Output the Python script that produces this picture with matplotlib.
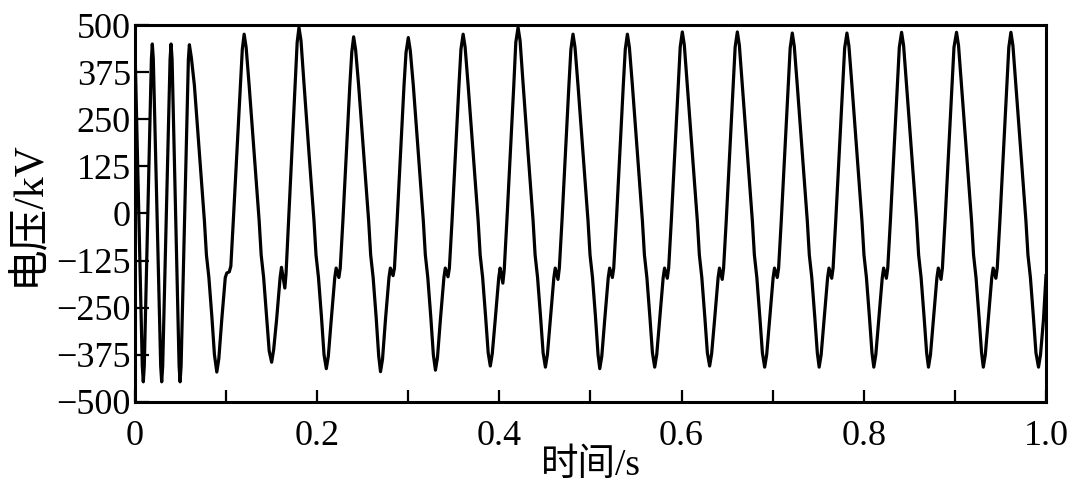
import matplotlib
matplotlib.use("Agg")
import matplotlib.pyplot as plt
from matplotlib.ticker import MultipleLocator, FuncFormatter

plt.rcParams['font.family'] = ['Liberation Serif', 'Noto Sans CJK SC']
plt.rcParams['axes.unicode_minus'] = True

# waveform, one row per cycle (peak -> trough -> rise)
time_s = [
    0.0000, 0.0080, 0.0091, 0.0102, 0.0180, 0.0190, 0.0201, 0.0282, 0.0293, 0.0304,
    0.0385, 0.0396, 0.0407, 0.0484, 0.0495, 0.0506, 0.0586,
    0.0597, 0.0619, 0.0652, 0.0707, 0.0762, 0.0784, 0.0811, 0.0844, 0.0872, 0.0898,
    0.0920, 0.0953, 0.0991, 0.1008, 0.1035, 0.1052, 0.1079, 0.1118, 0.1156, 0.1178,
    0.1198, 0.1220, 0.1253, 0.1308, 0.1363, 0.1385, 0.1412, 0.1445, 0.1473, 0.1500,
    0.1522, 0.1555, 0.1593, 0.1608, 0.1645, 0.1658, 0.1686, 0.1722, 0.1758, 0.1780,
    0.1800, 0.1822, 0.1855, 0.1910, 0.1965, 0.1987, 0.2014, 0.2047, 0.2075, 0.2100,
    0.2122, 0.2155, 0.2193, 0.2208, 0.2238, 0.2253, 0.2282, 0.2320, 0.2358, 0.2380,
    0.2400, 0.2422, 0.2455, 0.2510, 0.2565, 0.2587, 0.2614, 0.2647, 0.2675, 0.2695,
    0.2717, 0.2750, 0.2788, 0.2803, 0.2833, 0.2848, 0.2877, 0.2915, 0.2953, 0.2975,
    0.3000, 0.3022, 0.3055, 0.3110, 0.3165, 0.3187, 0.3214, 0.3247, 0.3275, 0.3298,
    0.3320, 0.3353, 0.3391, 0.3406, 0.3436, 0.3451, 0.3480, 0.3518, 0.3556, 0.3578,
    0.3602, 0.3624, 0.3657, 0.3712, 0.3767, 0.3789, 0.3816, 0.3849, 0.3877, 0.3900,
    0.3922, 0.3955, 0.3993, 0.4008, 0.4038, 0.4053, 0.4082, 0.4120, 0.4158, 0.4180,
    0.4205, 0.4227, 0.4260, 0.4315, 0.4370, 0.4392, 0.4419, 0.4452, 0.4480, 0.4505,
    0.4527, 0.4560, 0.4598, 0.4613, 0.4643, 0.4658, 0.4687, 0.4725, 0.4763, 0.4785,
    0.4808, 0.4830, 0.4863, 0.4918, 0.4973, 0.4995, 0.5022, 0.5055, 0.5083, 0.5102,
    0.5124, 0.5157, 0.5195, 0.5210, 0.5240, 0.5255, 0.5284, 0.5322, 0.5360, 0.5382,
    0.5405, 0.5427, 0.5460, 0.5515, 0.5570, 0.5592, 0.5619, 0.5652, 0.5680, 0.5705,
    0.5727, 0.5760, 0.5798, 0.5813, 0.5843, 0.5858, 0.5887, 0.5925, 0.5963, 0.5985,
    0.6008, 0.6030, 0.6063, 0.6118, 0.6173, 0.6195, 0.6222, 0.6255, 0.6283, 0.6308,
    0.6330, 0.6363, 0.6401, 0.6416, 0.6446, 0.6461, 0.6490, 0.6528, 0.6566, 0.6588,
    0.6612, 0.6634, 0.6667, 0.6722, 0.6777, 0.6799, 0.6826, 0.6859, 0.6887, 0.6912,
    0.6934, 0.6967, 0.7005, 0.7020, 0.7050, 0.7065, 0.7094, 0.7132, 0.7170, 0.7192,
    0.7215, 0.7237, 0.7270, 0.7325, 0.7380, 0.7402, 0.7429, 0.7462, 0.7490, 0.7510,
    0.7532, 0.7565, 0.7603, 0.7618, 0.7648, 0.7663, 0.7692, 0.7730, 0.7768, 0.7790,
    0.7815, 0.7837, 0.7870, 0.7925, 0.7980, 0.8002, 0.8029, 0.8062, 0.8090, 0.8110,
    0.8132, 0.8165, 0.8203, 0.8218, 0.8248, 0.8263, 0.8292, 0.8330, 0.8368, 0.8390,
    0.8415, 0.8437, 0.8470, 0.8525, 0.8580, 0.8602, 0.8629, 0.8662, 0.8690, 0.8710,
    0.8732, 0.8765, 0.8803, 0.8818, 0.8848, 0.8863, 0.8892, 0.8930, 0.8968, 0.8990,
    0.9018, 0.9040, 0.9073, 0.9128, 0.9183, 0.9205, 0.9232, 0.9265, 0.9293, 0.9312,
    0.9334, 0.9367, 0.9405, 0.9420, 0.9450, 0.9465, 0.9494, 0.9532, 0.9570, 0.9592,
    0.9615, 0.9637, 0.9670, 0.9725, 0.9780, 0.9802, 0.9829, 0.9862, 0.9890, 0.9918,
    0.9940, 0.9973, 1.0000,
]

voltage_kv = [
    440, -405, -447, -405, 410, 450, 410, -405, -447, -405,
    410, 450, 410, -405, -447, -405, 410,
    448, 413, 340, 160, -20, -110, -170, -275, -375, -421,
    -386, -280, -170, -158, -155, -140, -20, 160, 340, 436,
    476, 441, 340, 160, -20, -110, -170, -275, -365, -395,
    -362, -280, -170, -143, -198, -160, -20, 160, 340, 454,
    494, 459, 345, 160, -20, -110, -170, -275, -375, -412,
    -379, -280, -170, -145, -170, -145, -20, 160, 340, 429,
    469, 434, 340, 160, -20, -110, -170, -275, -378, -420,
    -387, -280, -170, -145, -165, -145, -20, 160, 340, 427,
    467, 432, 340, 160, -20, -110, -170, -275, -375, -416,
    -383, -280, -170, -145, -168, -145, -20, 160, 340, 436,
    476, 441, 340, 160, -20, -110, -170, -275, -370, -405,
    -372, -280, -170, -145, -185, -150, -20, 160, 340, 454,
    494, 459, 345, 160, -20, -110, -170, -275, -370, -408,
    -375, -280, -170, -145, -175, -145, -20, 160, 340, 436,
    476, 441, 340, 160, -20, -110, -170, -275, -375, -412,
    -379, -280, -170, -145, -170, -145, -20, 160, 340, 436,
    476, 441, 340, 160, -20, -110, -170, -275, -370, -408,
    -375, -280, -170, -145, -172, -145, -20, 160, 340, 442,
    482, 447, 340, 160, -20, -110, -170, -275, -370, -405,
    -372, -280, -170, -145, -175, -145, -20, 160, 340, 442,
    482, 447, 340, 160, -20, -110, -170, -275, -370, -408,
    -375, -280, -170, -145, -170, -145, -20, 160, 340, 439,
    479, 444, 340, 160, -20, -110, -170, -275, -370, -408,
    -375, -280, -170, -145, -172, -145, -20, 160, 340, 439,
    479, 444, 340, 160, -20, -110, -170, -275, -370, -408,
    -375, -280, -170, -145, -172, -145, -20, 160, 340, 441,
    481, 446, 340, 160, -20, -110, -170, -275, -370, -408,
    -375, -280, -170, -145, -175, -145, -20, 160, 340, 441,
    481, 446, 340, 160, -20, -110, -170, -275, -370, -408,
    -375, -280, -170, -145, -172, -145, -20, 160, 340, 441,
    481, 446, 340, 160, -20, -110, -170, -275, -370, -408,
    -375, -280, -165,
]

fig = plt.figure(figsize=(10.8, 4.93), dpi=100)
ax = fig.add_axes([0.125, 0.185, 0.8435, 0.764])

ax.plot(time_s, voltage_kv, color='black', linewidth=2.3)

ax.set_xlim(0, 1.0)
ax.set_ylim(-500, 500)
ax.xaxis.set_major_locator(MultipleLocator(0.2))
ax.xaxis.set_minor_locator(MultipleLocator(0.1))
ax.yaxis.set_major_locator(MultipleLocator(125))
ax.xaxis.set_major_formatter(FuncFormatter(lambda v, p: '0' if abs(v) < 1e-9 else '%.1f' % v))

ax.tick_params(axis='both', which='both', direction='in', width=1.6, labelsize=26,
               top=False, right=False)
ax.tick_params(axis='x', which='both', length=9, pad=13)
ax.tick_params(axis='y', which='major', length=10, pad=3)

for sp in ax.spines.values():
    sp.set_linewidth(2.2)

ax.set_xlabel('时间/s', fontsize=27, labelpad=-3)
ax.set_ylabel('电压/kV', fontsize=30, labelpad=6)

fig.savefig('out.png', dpi=100)
